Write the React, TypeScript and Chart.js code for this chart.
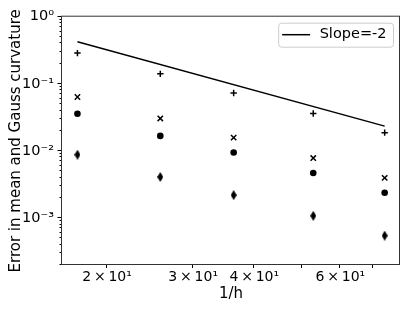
import React, { useEffect, useRef } from 'react';
import { Chart, registerables } from 'chart.js';

Chart.register(...registerables);

// ---- data ----
const hInv = [17.4, 25.7, 36.3, 52.8, 73.9];
const errPlus = [0.287, 0.1407, 0.073, 0.0361, 0.01875];
const errCross = [0.0637, 0.0305, 0.0158, 0.00783, 0.00397];
const errCircle = [0.0358, 0.01676, 0.0095, 0.0047, 0.00238];
const errDiamond = [0.00879, 0.0041, 0.0022, 0.00108, 0.000547];
const slopeX = [17.4, 73.9];
const slopeY = [0.423, 0.02345];
const slopeLabel = 'Slope=-2';

const xTickValues = [20, 30, 40, 50, 60, 70];
const xTickLabels = ['2\u2009×\u200910¹', '3\u2009×\u200910¹', '4\u2009×\u200910¹', '', '6\u2009×\u200910¹', ''];
const yMajorValues = [1, 0.1, 0.01, 0.001];
const yMajorLabels = ['10⁰', '10⁻¹', '10⁻²', '10⁻³'];
const xMin = 16.18;
const xMax = 79.43;
const yMin = 2e-4;
const yMax = 1;

const xTitle = '1/h';
const yTitle = 'Error in mean and Gauss curvature';

const FONT = "'DejaVu Sans', sans-serif";

function makeDiamond(): HTMLCanvasElement {
  const c = document.createElement('canvas');
  c.width = 6;
  c.height = 10;
  const g = c.getContext('2d')!;
  g.fillStyle = '#000';
  g.beginPath();
  g.moveTo(3, 0);
  g.lineTo(6, 5);
  g.lineTo(3, 10);
  g.lineTo(0, 5);
  g.closePath();
  g.fill();
  return c;
}

function yTickList() {
  const list: { value: number; major: boolean }[] = [];
  for (let k = -4; k <= 0; k++) {
    const base = Math.pow(10, k);
    for (let m = 1; m <= 9; m++) {
      const v = m * base;
      if (v >= yMin * 0.999 && v <= yMax * 1.001) list.push({ value: v, major: m === 1 });
    }
  }
  return list;
}

const axisPlugin = {
  id: 'axisFrame',
  afterDraw(chart: any) {
    const ctx = chart.ctx as CanvasRenderingContext2D;
    const { left, right, top, bottom } = chart.chartArea;
    const xs = chart.scales.x;
    const ys = chart.scales.y;
    ctx.save();
    ctx.strokeStyle = '#000';
    ctx.lineWidth = 1;
    // x ticks
    xs.ticks.forEach((t: any) => {
      const px = Math.round(xs.getPixelForValue(t.value)) - 0.5;
      ctx.beginPath();
      ctx.moveTo(px, bottom);
      ctx.lineTo(px, bottom + 3);
      ctx.stroke();
    });
    // y ticks
    ys.ticks.forEach((t: any) => {
      const py = Math.round(ys.getPixelForValue(t.value)) - 0.5;
      const len = t.major ? 4.5 : 2.5;
      ctx.beginPath();
      ctx.moveTo(left, py);
      ctx.lineTo(left - len, py);
      ctx.stroke();
    });
    // frame
    ctx.strokeStyle = '#333';
    ctx.strokeRect(left - 0.5, top - 0.5, right - left, bottom - top);

    // legend
    ctx.font = `14.5px ${FONT}`;
    const tw = ctx.measureText(slopeLabel).width;
    const frameRight = right - 7;
    const frameTop = top + 6;
    const frameH = 24;
    const textX = frameRight - 6.5 - tw;
    const lineEnd = textX - 9.5;
    const lineStart = lineEnd - 28;
    const frameLeft = lineStart - 4;
    const cy = frameTop + frameH / 2;
    ctx.fillStyle = 'rgba(255,255,255,0.8)';
    ctx.strokeStyle = '#cccccc';
    ctx.beginPath();
    (ctx as any).roundRect(frameLeft + 0.5, frameTop + 0.5, frameRight - frameLeft, frameH, 3);
    ctx.fill();
    ctx.stroke();
    ctx.strokeStyle = '#000';
    ctx.lineWidth = 1.5;
    ctx.beginPath();
    ctx.moveTo(lineStart, cy);
    ctx.lineTo(lineEnd, cy);
    ctx.stroke();
    ctx.fillStyle = '#000';
    ctx.textBaseline = 'middle';
    ctx.textAlign = 'left';
    ctx.fillText(slopeLabel, textX, cy);
    ctx.restore();
  },
};

export default function App() {
  const ref = useRef<HTMLCanvasElement>(null);
  useEffect(() => {
    if (!ref.current) return;
    const diamond = makeDiamond();
    const pts = (ys: number[]) => hInv.map((x, i) => ({ x, y: ys[i] }));
    const chart = new Chart(ref.current, {
      type: 'scatter',
      data: {
        datasets: [
          {
            label: slopeLabel,
            data: slopeX.map((x, i) => ({ x, y: slopeY[i] })),
            showLine: true,
            borderColor: '#000',
            borderWidth: 1.5,
            pointRadius: 0,
            backgroundColor: '#000',
          },
          {
            label: 'plus',
            data: pts(errPlus),
            pointStyle: 'cross',
            pointRadius: 3.2,
            borderColor: '#000',
            borderWidth: 1.5,
            backgroundColor: '#000',
          },
          {
            label: 'cross',
            data: pts(errCross),
            pointStyle: 'crossRot',
            pointRadius: 3.8,
            borderColor: '#000',
            borderWidth: 1.5,
            backgroundColor: '#000',
          },
          {
            label: 'circle',
            data: pts(errCircle),
            pointStyle: 'circle',
            pointRadius: 3.3,
            borderColor: '#000',
            borderWidth: 0,
            backgroundColor: '#000',
          },
          {
            label: 'diamond',
            data: pts(errDiamond),
            pointStyle: diamond as any,
            pointRadius: 5,
            borderColor: '#000',
            backgroundColor: '#000',
          },
        ],
      },
      options: {
        animation: false,
        responsive: false,
        events: [],
        layout: { padding: { left: 0, top: 14, right: 7, bottom: 0 } },
        plugins: { legend: { display: false }, tooltip: { enabled: false } },
        scales: {
          x: {
            type: 'logarithmic',
            min: xMin,
            max: xMax,
            grid: { display: false, drawTicks: false },
            border: { display: false },
            afterBuildTicks: (s: any) => {
              s.ticks = xTickValues.map((v) => ({ value: v }));
            },
            afterFit: (s: any) => {
              s.height = 44;
            },
            ticks: {
              autoSkip: false,
              maxRotation: 0,
              padding: 4,
              color: '#000',
              font: { family: FONT, size: 14 },
              callback: (v: any) => {
                const i = xTickValues.findIndex((t) => Math.abs(t - Number(v)) < 1e-6);
                return i >= 0 ? xTickLabels[i] : '';
              },
            },
            title: {
              display: true,
              text: xTitle,
              color: '#000',
              font: { family: FONT, size: 15 },
              padding: { top: 0, bottom: 6 },
            },
          },
          y: {
            type: 'logarithmic',
            min: yMin,
            max: yMax,
            grid: { display: false, drawTicks: false },
            border: { display: false },
            afterBuildTicks: (s: any) => {
              s.ticks = yTickList();
            },
            afterFit: (s: any) => {
              s.width = 62;
            },
            ticks: {
              autoSkip: false,
              padding: 8,
              color: '#000',
              font: { family: FONT, size: 14.5 },
              callback: (v: any) => {
                const i = yMajorValues.findIndex((t) => Math.abs(t - Number(v)) / t < 1e-6);
                return i >= 0 ? yMajorLabels[i] : '';
              },
            },
            title: {
              display: true,
              text: yTitle,
              color: '#000',
              font: { family: FONT, size: 15 },
              padding: { top: 7, bottom: 0 },
            },
          },
        },
      },
      plugins: [axisPlugin],
    });
    return () => chart.destroy();
  }, []);
  return (
    <div style={{ position: 'fixed', left: 0, top: 0, width: 407, height: 309, background: '#fff' }}>
      <canvas ref={ref} width={407} height={309} style={{ display: 'block' }} />
    </div>
  );
}
